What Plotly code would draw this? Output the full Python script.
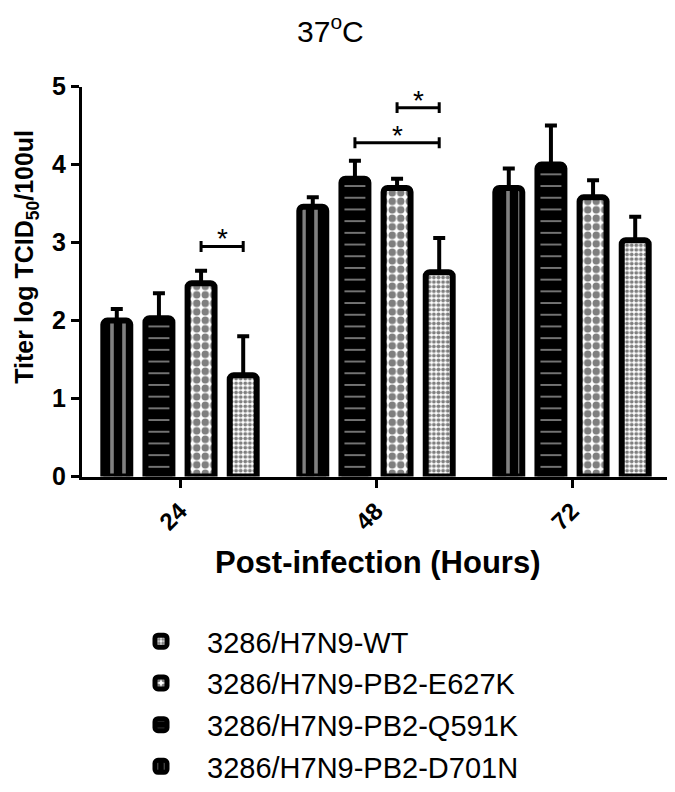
import plotly.graph_objects as go

# ---------------- data ----------------
hours = ["24", "48", "72"]
x_pos = [0, 1, 2]

series_names = ["3286/H7N9-PB2-D701N", "3286/H7N9-PB2-Q591K",
                "3286/H7N9-PB2-E627K", "3286/H7N9-WT"]
legend_rank = [4, 3, 2, 1]
d701n = [2.0, 3.46, 3.70]
d701n_err = [0.15, 0.12, 0.25]
q591k = [2.03, 3.82, 4.0]
q591k_err = [0.32, 0.23, 0.5]
e627k = [2.48, 3.70, 3.58]
e627k_err = [0.16, 0.12, 0.22]
wt = [1.3, 2.62, 3.03]
wt_err = [0.5, 0.44, 0.3]

# significance brackets: group index, series indices compared, bracket height
sig_groups = [0, 1, 1]
sig_from = [2, 1, 2]
sig_to = [3, 3, 3]
sig_y = [2.95, 4.28, 4.73]

# ---------------- geometry helpers (page has an 8px body margin) ----------------
OFF = 8
W, H = 675 - OFF, 792 - OFF


def fx(p):
    return (p - OFF) / W


def fy(p):
    return 1 - (p - OFF) / H


FONT = "Arial, Liberation Sans, sans-serif"
BARGAP = 0.14
GROUPGAP = 0.36
n_series = 4
slot = (1 - BARGAP) / n_series

values = [d701n, q591k, e627k, wt]
errors = [d701n_err, q591k_err, e627k_err, wt_err]
patterns = [
    dict(shape="|", bgcolor="black", fgcolor="white", size=12, solidity=0.3),
    dict(shape="-", bgcolor="black", fgcolor="white", size=11.7, solidity=0.15),
    dict(shape=".", bgcolor="white", fgcolor="black", size=8.5, solidity=0.6),
    dict(shape=".", bgcolor="white", fgcolor="black", size=4.6, solidity=0.55),
]

fig = go.Figure()
for name, rank, vals, errs, pat in zip(series_names, legend_rank, values, errors, patterns):
    fig.add_trace(go.Bar(
        name=name, x=x_pos, y=vals,
        marker=dict(color="white", pattern=pat,
                    line=dict(color="black", width=6), cornerradius=4),
        error_y=dict(type="data", array=errs, symmetric=False,
                     arrayminus=[0] * len(errs), color="black",
                     thickness=4, width=6),
        legendgroup=name, legendrank=rank,
    ))

# significance brackets + stars
for g, a, b, yv in zip(sig_groups, sig_from, sig_to, sig_y):
    xa = g + (a - (n_series - 1) / 2) * slot
    xb = g + (b - (n_series - 1) / 2) * slot
    fig.add_shape(type="line", x0=xa, x1=xb, y0=yv, y1=yv, xref="x", yref="y",
                  line=dict(color="black", width=3))
    for xe in (xa, xb):
        fig.add_shape(type="line", x0=xe, x1=xe, y0=yv - 0.07, y1=yv + 0.07,
                      xref="x", yref="y", line=dict(color="black", width=3))
    fig.add_annotation(x=(xa + xb) / 2, y=yv, xref="x", yref="y", text="*",
                       showarrow=False, yanchor="bottom", yshift=-10,
                       font=dict(family=FONT, size=28, color="black"))

fig.update_layout(
    width=W, height=H,
    margin=dict(l=0, r=0, t=0, b=0),
    paper_bgcolor="white", plot_bgcolor="white",
    barmode="group", bargap=BARGAP, bargroupgap=GROUPGAP,
    font=dict(family=FONT, color="black"),
    xaxis=dict(domain=[fx(82), fx(670)], range=[-0.5, 2.5],
               tickmode="array", tickvals=x_pos, ticktext=hours,
               tickangle=-45, ticks="outside", ticklen=8, tickwidth=3,
               tickcolor="black", showline=True, linecolor="black",
               linewidth=3, showgrid=False, zeroline=False,
               tickfont=dict(family=FONT, size=24, color="black", weight="bold"),
               automargin=False),
    yaxis=dict(domain=[fy(479), fy(87)], range=[0, 5],
               tickmode="linear", tick0=0, dtick=1, ticks="outside",
               ticklen=8, tickwidth=3, tickcolor="black", showline=True,
               linecolor="black", linewidth=3, showgrid=False,
               zeroline=False,
               tickfont=dict(family=FONT, size=25, color="black", weight="bold"),
               automargin=False),
    legend=dict(x=fx(115), xanchor="left", y=fy(619), yanchor="top",
                traceorder="grouped", tracegroupgap=1,
                font=dict(family=FONT, size=29, color="black"),
                bgcolor="rgba(0,0,0,0)", itemwidth=82),
    showlegend=True,
)

# chart title and axis titles as annotations for exact placement
fig.add_annotation(text="37<sup>o</sup>C", x=fx(330), y=1, xref="paper",
                   yref="paper", showarrow=False, xanchor="center",
                   yanchor="top", yshift=0,
                   font=dict(family=FONT, size=30, color="black"))
fig.add_annotation(text="<b>Post-infection (Hours)</b>", x=fx(378), y=fy(565),
                   xref="paper", yref="paper", showarrow=False,
                   xanchor="center", yanchor="middle",
                   font=dict(family=FONT, size=31, color="black"))
fig.add_annotation(text="<b>Titer log TCID<sub>50</sub>/100ul</b>", x=0,
                   y=fy(258), xref="paper", yref="paper",
                   showarrow=False, textangle=-90, xanchor="left",
                   yanchor="middle",
                   font=dict(family=FONT, size=25, color="black"))

fig.write_html("out.html")
